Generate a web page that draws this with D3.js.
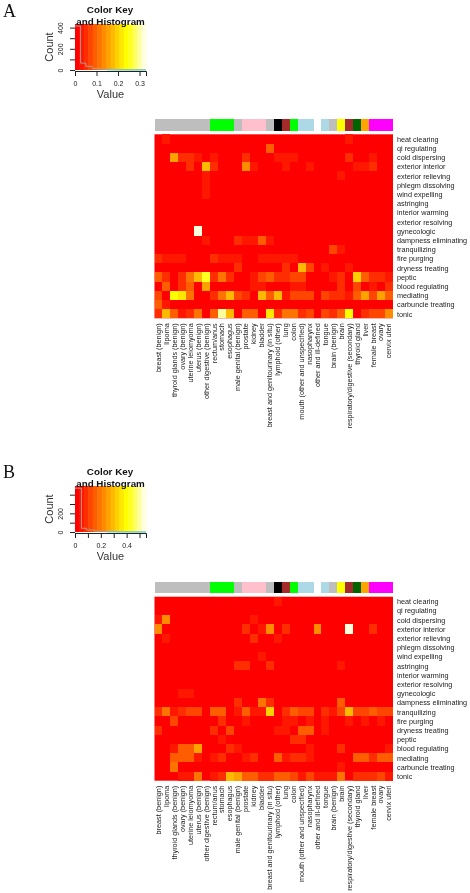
<!DOCTYPE html>
<html><head><meta charset="utf-8">
<script src="https://cdn.jsdelivr.net/npm/d3@7/dist/d3.min.js"></script>
<style>html,body{margin:0;padding:0;background:#fff}svg{display:block;filter:blur(.4px)}text{font-family:"Liberation Sans",Arial,sans-serif}</style>
</head><body><svg id="c" width="470" height="893"></svg>
<script>
const rowLabels=["heat clearing","qi regulating","cold dispersing","exterior interior","exterior relieving","phlegm dissolving","wind expelling","astringing","interior warming","exterior resolving","gynecologic","dampness eliminating","tranquilizing","fire purging","dryness treating","peptic","blood regulating","mediating","carbuncle treating","tonic"];
const colLabels=["breast (benign)","lipoma","thyroid glands (benign)","ovary (benign)","uterine leiomyoma","uterus (benign)","other digestive (benign)","rectum/anus","stomach","esophagus","male genital (benign)","prostate","kidney","bladder","breast and genitourinary (in situ)","lymphoid (other)","lung","colon","mouth (other and unspecified)","nasopharynx","other and ill-defined","tongue","brain (benign)","brain","respiratory/digestive (secondary)","thyroid gland","liver","female breast","ovary","cervix uteri"];
const groupColors=["#bebebe","#bebebe","#bebebe","#bebebe","#bebebe","#bebebe","#bebebe","#00ff00","#00ff00","#00ff00","#bebebe","#ffc0cb","#ffc0cb","#ffc0cb","#bebebe","#000000","#a52a2a","#00ff00","#add8e6","#add8e6","#ffffff","#add8e6","#bebebe","#ffff00","#a52a2a","#006400","#ffa500","#ff00ff","#ff00ff","#ff00ff"];
const valuesA=[
[0,.03,0,0,0,0,0,0,0,0,0,0,0,0,0,.02,.02,0,0,0,0,.02,0,.02,.03,0,0,0,0,0],
[0,0,0,0,0,0,0,0,0,0,0,0,.02,0,.09,0,0,0,0,0,0,0,0,0,0,0,0,0,0,0],
[0,.02,.16,.05,.06,.04,0,.03,0,0,0,.05,0,0,0,.03,.03,.03,0,0,0,0,.02,.02,.05,.02,0,.04,0,0],
[0,0,0,.02,.05,0,.18,.06,0,0,0,.14,.04,0,0,0,.04,.02,0,.03,0,.02,.02,0,0,.03,.03,.06,.02,0],
[0,0,0,0,0,0,.03,0,0,0,0,0,0,0,0,0,0,0,0,0,0,0,0,.04,0,0,0,0,0,0],
[0,0,0,0,0,0,.03,0,0,0,0,0,0,0,.02,0,0,0,0,0,0,0,0,0,0,0,0,0,0,0],
[0,0,0,0,0,0,.03,0,0,0,0,0,0,0,0,0,0,0,0,0,0,0,0,0,0,0,0,0,0,0],
[0,0,0,0,0,0,0,0,0,0,0,0,0,0,0,0,0,0,0,0,0,0,0,0,0,0,0,0,0,0],
[0,.02,0,0,0,0,0,0,0,0,0,0,0,0,0,0,0,0,0,0,0,0,0,0,0,0,0,0,0,0],
[0,0,0,0,0,0,0,0,0,0,0,0,0,0,0,0,0,0,0,0,0,0,0,0,0,0,0,0,0,0],
[0,0,0,0,.02,.32,0,0,0,0,0,0,0,0,0,0,0,0,0,0,0,0,0,0,0,0,0,0,0,0],
[0,0,0,.02,.02,.02,.04,0,0,.02,.05,.03,.04,.09,.03,0,0,0,0,0,0,.02,0,0,.02,.02,.02,0,0,0],
[0,0,0,0,.02,0,0,0,0,0,0,0,0,0,0,0,0,0,0,0,0,0,.07,.03,0,0,0,0,0,0],
[.05,.04,.04,.04,0,.02,0,.05,.03,.03,.03,0,0,.03,.04,.03,.03,.03,0,0,0,.02,0,0,.02,.02,.02,.02,0,0],
[0,0,0,0,0,0,0,0,0,0,.05,0,0,0,0,0,.06,0,.17,.08,0,.04,0,0,.04,0,0,0,.02,.02],
[.09,.06,0,.05,.11,.18,.25,.05,.12,.06,0,0,.04,.08,.09,.05,.05,.07,.07,0,0,.02,.03,.05,.02,.19,.1,.05,.05,.04],
[0,.1,0,.05,.1,.02,.16,0,0,0,0,0,.03,.04,0,0,.02,.04,.03,0,0,0,0,.05,0,.08,0,.03,.02,.05],
[.07,0,.23,.22,.12,0,0,.06,.11,.17,.07,.06,0,.17,.1,.17,.04,.08,.08,.08,0,.08,.05,.05,.04,.1,.15,.07,.16,.09],
[.1,.03,0,0,0,0,0,0,0,0,0,.02,.02,.02,0,0,0,0,0,0,0,0,0,0,0,0,0,0,0,0],
[.06,.18,.1,.03,.06,.12,.02,.1,.29,.18,.01,.1,.1,.02,.21,.05,.12,.12,.05,.08,0,.08,.05,.09,.24,.02,.05,.08,.08,.13]];
const valuesB=[
[0,0,0,0,0,0,0,0,0,0,0,0,0,0,0,.05,0,0,0,0,0,0,0,0,0,0,0,0,0,0],
[0,0,0,0,0,0,0,0,0,0,0,0,0,0,0,0,0,0,0,0,0,0,0,0,0,0,0,0,0,0],
[.06,.22,0,0,0,0,0,0,0,0,0,0,.05,0,0,0,0,0,0,0,0,0,0,0,0,0,0,0,0,0],
[.22,0,0,0,0,0,0,0,0,0,0,.1,0,.06,.24,0,.1,0,0,0,.24,0,0,0,.52,0,0,.1,0,0],
[0,.05,0,0,0,0,0,0,0,0,0,0,.1,0,0,.05,0,0,0,0,0,0,0,0,0,0,0,0,0,0],
[0,0,0,0,0,0,0,0,0,0,0,0,0,0,0,0,0,0,0,0,0,0,0,0,0,0,0,0,0,0],
[0,0,0,0,0,0,0,0,0,0,0,0,0,.05,0,0,0,0,0,0,0,0,0,0,0,0,0,0,0,0],
[0,0,0,0,0,0,0,0,0,0,.1,.07,0,0,.1,0,0,0,0,0,0,0,0,.05,0,0,0,0,0,0],
[0,0,0,0,0,0,0,0,0,0,0,0,0,0,0,0,0,0,0,0,0,0,0,0,0,0,0,0,0,0],
[0,0,0,0,0,0,0,0,0,0,0,0,0,0,0,0,0,0,0,0,0,0,0,0,0,0,0,0,0,0],
[0,0,0,.05,.05,0,0,0,0,0,0,0,0,0,0,0,0,0,0,0,0,0,0,0,0,0,0,0,0,0],
[0,0,0,0,0,0,0,0,0,0,.08,0,0,.2,.08,0,0,0,0,0,0,0,0,.15,0,0,0,0,0,0],
[.08,.18,.05,.1,.12,.12,0,.15,.15,0,.05,.17,.06,.06,.32,0,.1,.14,.12,.12,0,.1,.04,.12,.3,.12,.12,.15,.12,.12],
[0,0,.13,0,0,0,0,0,.08,0,0,.05,0,0,0,0,.05,.05,0,.05,0,.05,0,0,.05,0,.05,0,.05,0],
[.1,0,0,0,0,0,0,.08,0,.12,0,0,0,.03,0,.05,.05,0,.14,.14,0,.05,0,0,0,0,0,0,0,0],
[0,0,0,0,0,0,0,0,.05,0,0,0,0,0,0,0,0,.08,.08,0,0,0,0,0,0,0,0,0,0,0],
[0,0,.05,.17,.14,.25,0,0,0,.1,.05,0,0,.03,0,0,0,0,0,.05,0,0,0,.1,0,0,0,0,0,.05],
[.03,0,.17,.17,.17,.06,0,.05,.08,0,0,.05,.08,.03,0,.15,.05,.1,.08,.05,0,0,0,0,0,.16,.16,.08,.16,.16],
[.03,0,.2,0,0,0,0,0,0,0,0,0,0,0,0,0,0,0,0,0,0,0,0,.04,0,0,0,0,0,0],
[0,0,0,.05,.05,.2,0,.05,.1,.28,.25,.17,.17,.08,.1,.17,.17,.13,.05,.12,.04,.06,.05,.2,0,.1,.08,.1,.13,.06]];
const histEdgesA=[0,.026,.05,.08,.13,.18,.25,.33];
const histCountsA=[415,65,35,15,6,3,2];
const histEdgesB=[0,.05,.09,.15,.22,.32,.43,.55];
const histCountsB=[470,40,22,12,6,3,1];
const xTicksA=[0,.1,.2,.3], xTickLabelsA=["0","0.1","0.2","0.3"];
const xTicksB=[0,.1,.2,.3,.4,.5], xTickLabelsB=["0","","0.2","","0.4",""];
const yTicksA=[0,100,200,300,400], yTickLabelsA=["0","","200","","400"];
const yTicksB=[0,100,200,300,400], yTickLabelsB=["0","","200","",""];

const svg=d3.select("#c");
const N=16;
function heat(k){ // R heat.colors
  const j=Math.floor(N/4), i=N-j;
  if(k<i) return d3.rgb(255,Math.round(255*k/(i-1)),0).formatHex();
  const t=(k-i)/(j-1), s=(1-1/(2*j))*(1-t)+(1/(2*j))*t;
  return d3.rgb(255,255,Math.round(255*(1-s))).formatHex();
}
const palette=d3.range(N).map(heat);
const ink="#222";
function panel(o){
  const color=d3.scaleQuantize().domain([0,o.max]).range(palette);
  const g=svg.append("g");
  g.append("text").attr("x",3).attr("y",o.letterY).attr("font-size",18).style("font-family","Liberation Serif").attr("fill","#111").text(o.letter);
  // key
  const x=d3.scaleLinear().domain([0,o.max]).range([75,146]);
  const y=d3.scaleLinear().domain([0,o.yPer*4]).range([o.keyBottom,o.keyBottom-o.yPer*4*o.pxPer]);
  const kb=d3.scaleBand().domain(d3.range(N)).range([75,146]);
  g.append("g").selectAll("rect").data(palette).join("rect").attr("x",(d,i)=>kb(i)).attr("width",kb.bandwidth()+.5).attr("y",o.keyTop).attr("height",o.keyBottom-o.keyTop).attr("fill",d=>d);
  const hist=o.edges.slice(0,-1).map((e,i)=>[e,o.counts[i]]);
  const step=[...hist,[o.edges[o.edges.length-1],o.counts[o.counts.length-1]]];
  const ln=d3.line().x(d=>x(d[0])).y(d=>y(d[1])).curve(d3.curveStepAfter);
  g.append("path").attr("d",ln(step)).attr("fill","none").attr("stroke","#b09a90").attr("stroke-width",1);
  g.append("path").attr("d",d3.line().x(d=>x(d[0])).y(d=>y(d[1]))([[o.max*.45,0],[o.max,0]])).attr("fill","none").attr("stroke","#5fe0e0").attr("stroke-width",1);
  const ax=d3.axisBottom(x).tickValues(o.xTicks).tickFormat((d,i)=>o.xLabels[i]).tickSize(5).tickPadding(5);
  const axg=g.append("g").attr("transform",`translate(0,${o.keyBottom+1})`).call(ax);
  axg.select(".domain").attr("stroke",ink);axg.selectAll("line").attr("stroke",ink);
  axg.selectAll("text").attr("font-size",7).attr("fill",ink);
  const ay=d3.axisLeft(y).tickValues(o.yTicks).tickFormat((d,i)=>o.yLabels[i]).tickSize(5).tickPadding(4);
  const ayg=g.append("g").attr("transform","translate(75,0)").call(ay);
  ayg.select(".domain").remove();ayg.selectAll("line").attr("stroke",ink);
  ayg.selectAll("text").attr("font-size",7).attr("fill",ink).attr("dy",0).attr("text-anchor","middle").attr("x",0).attr("y",0)
    .attr("transform","translate(-12,0) rotate(-90)");
  g.append("text").attr("x",110.5).attr("y",o.keyBottom+28).attr("text-anchor","middle").attr("font-size",11).attr("fill","#333").text("Value");
  g.append("text").attr("transform",`translate(53,${(o.keyBottom+o.keyTop)/2}) rotate(-90)`).attr("text-anchor","middle").attr("font-size",11).attr("fill","#333").text("Count");
  g.append("text").attr("x",110).attr("y",o.keyTop-11.5).attr("text-anchor","middle").attr("font-size",9.8).attr("font-weight","bold").attr("fill","#111").text("Color Key");
  g.append("text").attr("x",110.5).attr("y",o.keyTop+.5).attr("text-anchor","middle").attr("font-size",9.8).attr("font-weight","bold").attr("fill","#111").text("and Histogram");
  // heatmap
  const cx=d3.scaleBand().domain(d3.range(30)).range([154.5,393]);
  const cy=d3.scaleBand().domain(d3.range(20)).range([o.top,o.top+184]);
  g.append("g").selectAll("rect").data(groupColors).join("rect").attr("x",(d,i)=>cx(i)).attr("width",cx.bandwidth()).attr("y",o.barTop).attr("height",o.barH).attr("fill",d=>d).attr("shape-rendering","crispEdges");
  const cells=o.values.flatMap((r,i)=>r.map((v,j)=>({i,j,v})));
  g.append("rect").attr("x",154.5).attr("y",o.top).attr("width",238.5).attr("height",184).attr("fill",palette[0]);
  g.append("g").selectAll("rect").data(cells.filter(d=>color(Math.min(d.v,o.max*.999))!==palette[0])).join("rect").attr("x",d=>cx(d.j)).attr("y",d=>cy(d.i)).attr("width",cx.bandwidth()).attr("height",cy.bandwidth()).attr("fill",d=>color(Math.min(d.v,o.max*.999))).attr("shape-rendering","crispEdges");
  const rowScale=d3.scalePoint().domain(d3.range(20)).range([o.top+cy.bandwidth()/2,o.top+184-cy.bandwidth()/2]);
  const ra=g.append("g").attr("transform","translate(394,0)").call(d3.axisRight(rowScale).tickSize(0).tickPadding(3).tickFormat(i=>rowLabels[i]));
  ra.select(".domain").remove();ra.selectAll("text").attr("font-size",7.25).attr("fill",ink);
  g.append("g").selectAll("text").data(colLabels).join("text").attr("text-anchor","end").attr("font-size",7.25).attr("fill",ink)
    .attr("transform",(d,i)=>`translate(${cx(i)+cx.bandwidth()/2+2.4},${o.top+189}) rotate(-90)`).text(d=>d);
}
panel({letter:"A",letterY:17,max:.33,values:valuesA,edges:histEdgesA,counts:histCountsA,xTicks:xTicksA,xLabels:xTickLabelsA,yTicks:yTicksA,yLabels:yTickLabelsA,yPer:100,pxPer:.106,keyTop:24,keyBottom:70,barTop:119.3,barH:11.4,top:134.3});
panel({letter:"B",letterY:478,max:.55,values:valuesB,edges:histEdgesB,counts:histCountsB,xTicks:xTicksB,xLabels:xTickLabelsB,yTicks:yTicksB,yLabels:yTickLabelsB,yPer:100,pxPer:.0933,keyTop:486,keyBottom:532,barTop:581.5,barH:11,top:596.7});
</script></body></html>
